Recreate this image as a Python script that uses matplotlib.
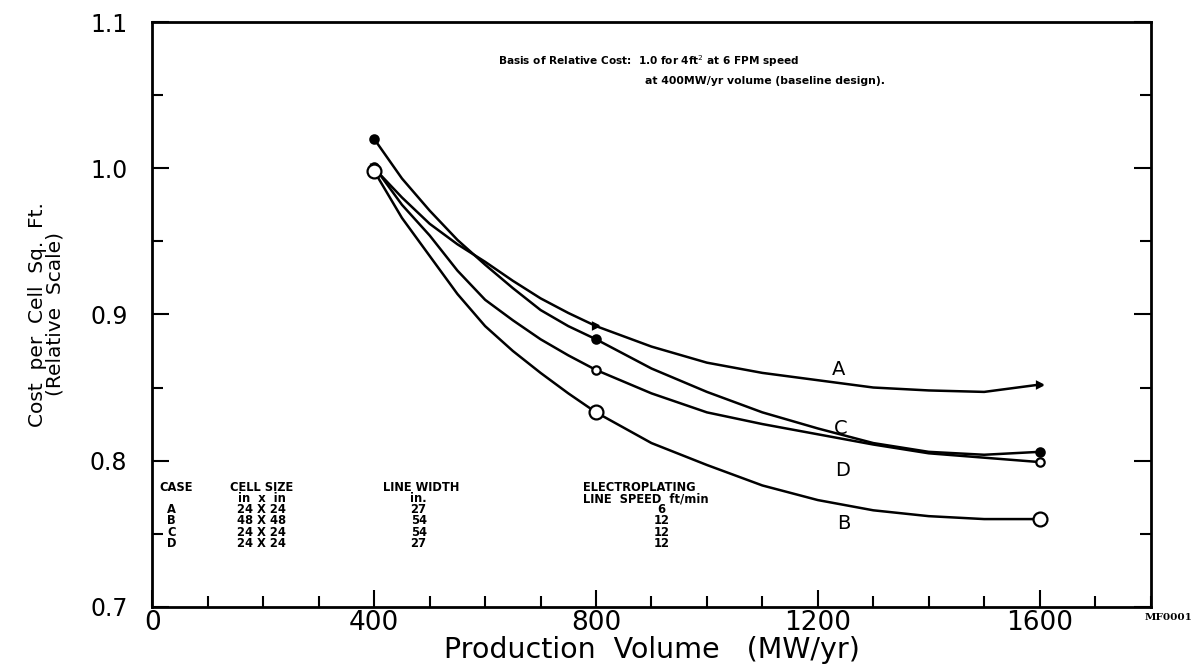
import numpy as np
from matplotlib import pyplot as plt
from matplotlib.ticker import MultipleLocator

# Production volume (MW/yr) at the read points
volume = [400, 450, 500, 550, 600, 650, 700, 750, 800, 900, 1000, 1100, 1200, 1300, 1400, 1500, 1600]

# Relative cost per cell sq. ft.
cost_a = [1.000, 0.980, 0.962, 0.948, 0.936, 0.923, 0.911, 0.901, 0.892,
          0.878, 0.867, 0.860, 0.855, 0.850, 0.848, 0.847, 0.852]
cost_b = [0.998, 0.966, 0.940, 0.914, 0.892, 0.875, 0.860, 0.846, 0.833,
          0.812, 0.797, 0.783, 0.773, 0.766, 0.762, 0.760, 0.760]
cost_c = [1.020, 0.993, 0.971, 0.951, 0.934, 0.918, 0.903, 0.892, 0.883,
          0.863, 0.847, 0.833, 0.822, 0.812, 0.806, 0.804, 0.806]
cost_d = [1.001, 0.975, 0.954, 0.930, 0.910, 0.896, 0.883, 0.872, 0.862,
          0.846, 0.833, 0.825, 0.818, 0.811, 0.805, 0.802, 0.799]

# data points that carry a marker
marked_volume = [400, 800, 1600]

cases = ['A', 'B', 'C', 'D']
cell_sizes = ['24 X 24', '48 X 48', '24 X 24', '24 X 24']
line_widths = ['27', '54', '54', '27']
line_speeds = ['6', '12', '12', '12']

x_ticks = [0, 400, 800, 1200, 1600]
y_ticks = [0.7, 0.8, 0.9, 1.0, 1.1]

BOLD_FONT = ['Liberation Sans Narrow', 'DejaVu Sans']


def marked(values):
    return [values[volume.index(v)] for v in marked_volume]


def main():
    figure = plt.figure(figsize=(11.91, 6.69), dpi=100)
    axis = figure.add_axes([0.128, 0.093, 0.838, 0.874])

    curves = [
        (cost_a, 'A', '>', 5, 'black'),
        (cost_c, 'C', 'o', 6, 'black'),
        (cost_d, 'D', 'o', 6, 'white'),
        (cost_b, 'B', 'o', 10, 'white'),
    ]
    for values, name, marker, size, face in curves:
        axis.plot(volume, values, color='black', linewidth=1.8)
        axis.plot(marked_volume, marked(values), linestyle='none', marker=marker,
                  markersize=size, markerfacecolor=face, markeredgecolor='black',
                  markeredgewidth=1.6, zorder=3)

    # curve letters
    curve_labels = {'A': (1237, 0.862), 'C': (1242, 0.822), 'D': (1244, 0.793), 'B': (1246, 0.757)}
    for name, (x, y) in curve_labels.items():
        axis.text(x, y, name, fontsize=14, ha='center', va='center')

    axis.set_xlim(0, 1800)
    axis.set_ylim(0.7, 1.1)
    axis.set_xticks(x_ticks)
    axis.set_xticklabels([str(t) for t in x_ticks])
    axis.set_yticks(y_ticks)
    axis.set_yticklabels(['%.1f' % t for t in y_ticks])
    axis.xaxis.set_minor_locator(MultipleLocator(100))
    axis.yaxis.set_minor_locator(MultipleLocator(0.05))
    axis.tick_params(which='both', direction='in', width=1.5, right=True)
    axis.tick_params(which='major', length=12)
    axis.tick_params(which='minor', length=8)
    axis.tick_params(axis='y', pad=18, labelsize=17)
    axis.tick_params(axis='x', pad=2, labelsize=19)
    for spine in axis.spines.values():
        spine.set_linewidth(2)

    axis.set_xlabel('Production  Volume   (MW/yr)', fontsize=20.5, labelpad=0)
    axis.set_ylabel('Cost  per  Cell  Sq.  Ft.\n(Relative  Scale)', fontsize=14.5,
                    linespacing=0.95, labelpad=18)

    # basis note
    axis.text(623, 1.073, 'Basis of Relative Cost:  1.0 for 4ft$^{2}$ at 6 FPM speed',
              fontsize=7.6, fontweight='bold', family=BOLD_FONT, va='center')
    axis.text(888, 1.060, 'at 400MW/yr volume (baseline design).',
              fontsize=7.8, fontweight='bold', family=BOLD_FONT, va='center')

    # case table
    header_y = 0.7815
    row_step = 0.0076
    size = 8.3
    axis.text(42, header_y, 'CASE', fontsize=size, fontweight='bold', family=BOLD_FONT,
              ha='center', va='center')
    axis.text(197, header_y, 'CELL SIZE', fontsize=size, fontweight='bold', family=BOLD_FONT,
              ha='center', va='center')
    axis.text(197, header_y - row_step, 'in  x  in', fontsize=size, fontweight='bold', family=BOLD_FONT,
              ha='center', va='center')
    axis.text(485, header_y, 'LINE WIDTH', fontsize=size, fontweight='bold', family=BOLD_FONT,
              ha='center', va='center')
    axis.text(480, header_y - row_step, 'in.', fontsize=size, fontweight='bold', family=BOLD_FONT,
              ha='center', va='center')
    axis.text(776, header_y, 'ELECTROPLATING', fontsize=size, fontweight='bold', family=BOLD_FONT,
              va='center')
    axis.text(776, header_y - row_step, 'LINE  SPEED  ft/min', fontsize=size, fontweight='bold',
              family=BOLD_FONT, va='center')
    for i in range(len(cases)):
        y = header_y - row_step * (i + 2)
        axis.text(34, y, cases[i], fontsize=size, fontweight='bold', family=BOLD_FONT,
                  ha='center', va='center')
        axis.text(197, y, cell_sizes[i], fontsize=size, fontweight='bold', family=BOLD_FONT,
                  ha='center', va='center')
        axis.text(480, y, line_widths[i], fontsize=size, fontweight='bold', family=BOLD_FONT,
                  ha='center', va='center')
        axis.text(918, y, line_speeds[i], fontsize=size, fontweight='bold', family=BOLD_FONT,
                  ha='center', va='center')

    figure.text(0.961, 0.073, 'MF0001', fontsize=7.5, fontweight='bold', family=['DejaVu Serif'])

    figure.savefig('out.png', dpi=100)


if __name__ == "__main__":
    main()
